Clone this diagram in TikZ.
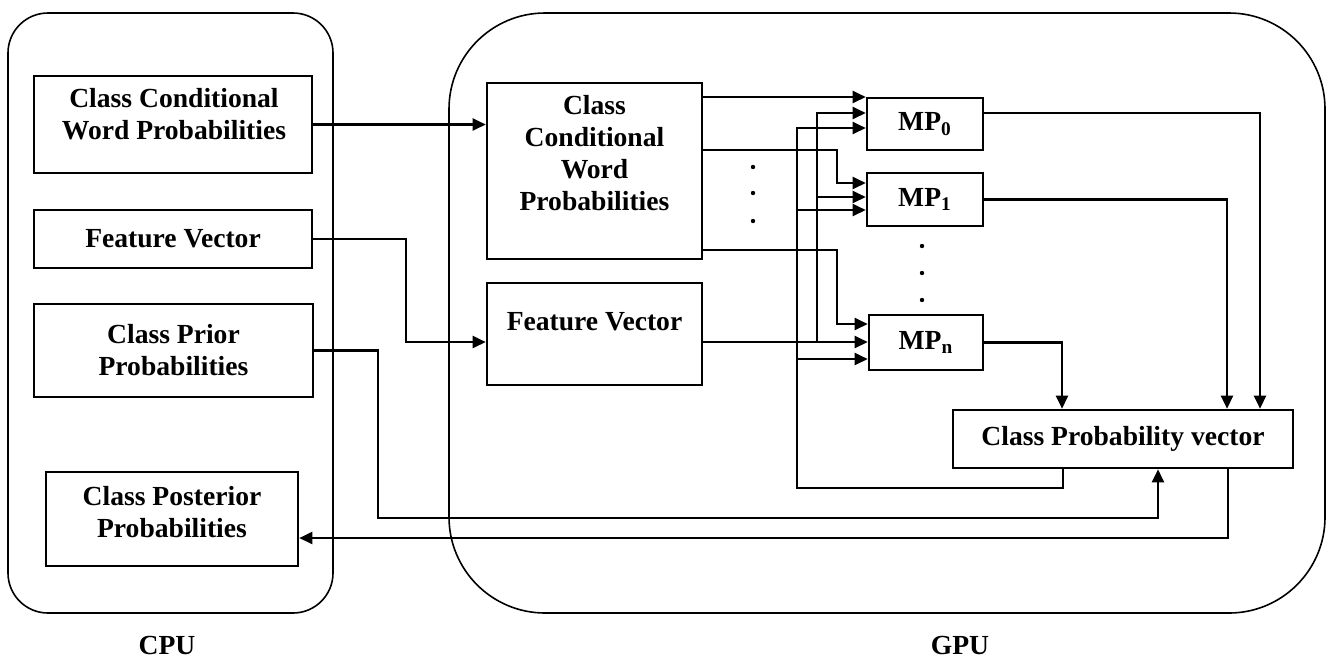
\documentclass[tikz,border=0pt]{standalone}
\usepackage{fontspec}
\setmainfont{Liberation Serif}
\usepackage{tikz}
\usetikzlibrary{arrows.meta,positioning,calc}
\tikzset{
  unitbox/.style={draw,line width=1.3pt,inner sep=0pt,align=center,
        font=\bfseries\fontsize{13.8}{16}\selectfont},
  boxtxt/.style={inner sep=0pt,align=center,font=\bfseries\fontsize{13.8}{16}\selectfont},
  area/.style={draw,line width=0.8pt,inner sep=0pt},
  link/.style={line width=1.1pt,-{Triangle[length=6.5pt,width=6pt]}},
}

\begin{document}
\begin{tikzpicture}[x=0.5pt,y=-0.5pt]
  \useasboundingbox (0,0) rectangle (1331,660);
  % host and device
  \node[area,rounded corners=20pt,minimum width=162.5pt,minimum height=300pt] (cpuArea) at (170.5,313) {};
  \node[area,rounded corners=48pt,minimum width=438pt,minimum height=300pt] (gpuArea) at (887,313) {};
  \node[boxtxt] (cpuLbl) at (167,645) {CPU};
  \node[boxtxt] (gpuLbl) at (960,645) {GPU};

  % CPU side
  \node[unitbox,minimum width=139pt,minimum height=48.5pt] (cpuWord) at (173,124.5) {};
  \node[boxtxt] (cpuWordT) at (174,114) {Class Conditional\\Word Probabilities};
  \node[unitbox,minimum width=139pt,minimum height=29pt] (cpuFeat) at (173,239) {Feature Vector};
  \node[unitbox,minimum width=139.5pt,minimum height=46.5pt] (cpuPrior) at (173.5,350.5) {Class Prior\\Probabilities};
  \node[unitbox,minimum width=126pt,minimum height=47pt] (cpuPost) at (172,519) {};
  \node[boxtxt] (cpuPostT) at (172,512) {Class Posterior\\Probabilities};

  % GPU side
  \node[unitbox,minimum width=107.5pt,minimum height=88pt] (gpuWord) at (594.5,171) {};
  \node[boxtxt] (gpuWordT) at (594.5,153) {Class\\Conditional\\Word\\Probabilities};
  \node[unitbox,minimum width=107.5pt,minimum height=51pt] (gpuFeat) at (594.5,334) {};
  \node[boxtxt] (gpuFeatT) at (594.5,322) {Feature Vector};
  \node[unitbox,minimum width=58pt,minimum height=26pt] (mp0) at (925,124) {MP\textsubscript{0}};
  \node[unitbox,minimum width=58pt,minimum height=26.5pt] (mp1) at (925,199.5) {MP\textsubscript{1}};
  \node[unitbox,minimum width=57pt,minimum height=27.5pt] (mpn) at (926,342.5) {MP\textsubscript{n}};
  \node[unitbox,minimum width=170pt,minimum height=29pt] (cpv) at (1123,439) {Class Probability vector};

  \foreach \y in {167,193,221} \fill (753,\y) circle (1.1pt);
  \foreach \y in {246,273,300} \fill (922,\y) circle (1.1pt);

  % host to device
  \draw[link] (cpuWord.east) -- (cpuWord.east -| gpuWord.west);
  \draw[link] (cpuFeat.east) -| (406,342) -- (gpuFeat.west |- 0,342);
  \draw[link] (cpuPrior.east) -| (378,518) -| ([xshift=17.5pt]cpv.south);
  \draw[link] ([xshift=52.5pt]cpv.south) |- ([yshift=-9.5pt]cpuPost.east);

  % word probabilities to the MPs
  \draw[link] (gpuWord.east |- 0,97) -- (mp0.west |- 0,97);
  \draw[link] (gpuWord.east |- 0,150) -| (837,183) -- (mp1.west |- 0,183);
  \draw[link] (gpuWord.east |- 0,250) -| (837,324) -- (mpn.west |- 0,324);

  % feature vector to the MPs
  \draw[link] (gpuFeat.east |- 0,342) -- (mpn.west |- 0,342);
  \draw[link] (817,342) |- (mp0.west |- 0,113);
  \draw[link] (817,197) -- (mp1.west |- 0,197);

  % class probabilities fed back
  \draw[link] ([xshift=-30pt]cpv.south) |- (797,488) |- (mp0.west |- 0,128);
  \draw[link] (797,210) -- (mp1.west |- 0,210);
  \draw[link] (797,359) -- (mpn.west |- 0,359);

  % MP results
  \draw[link] ([yshift=5.5pt]mp0.east) -| ([xshift=68.5pt]cpv.north);
  \draw[link] (mp1.east) -| ([xshift=52pt]cpv.north);
  \draw[link] (mpn.east) -| ([xshift=-30.5pt]cpv.north);
\end{tikzpicture}
\end{document}
